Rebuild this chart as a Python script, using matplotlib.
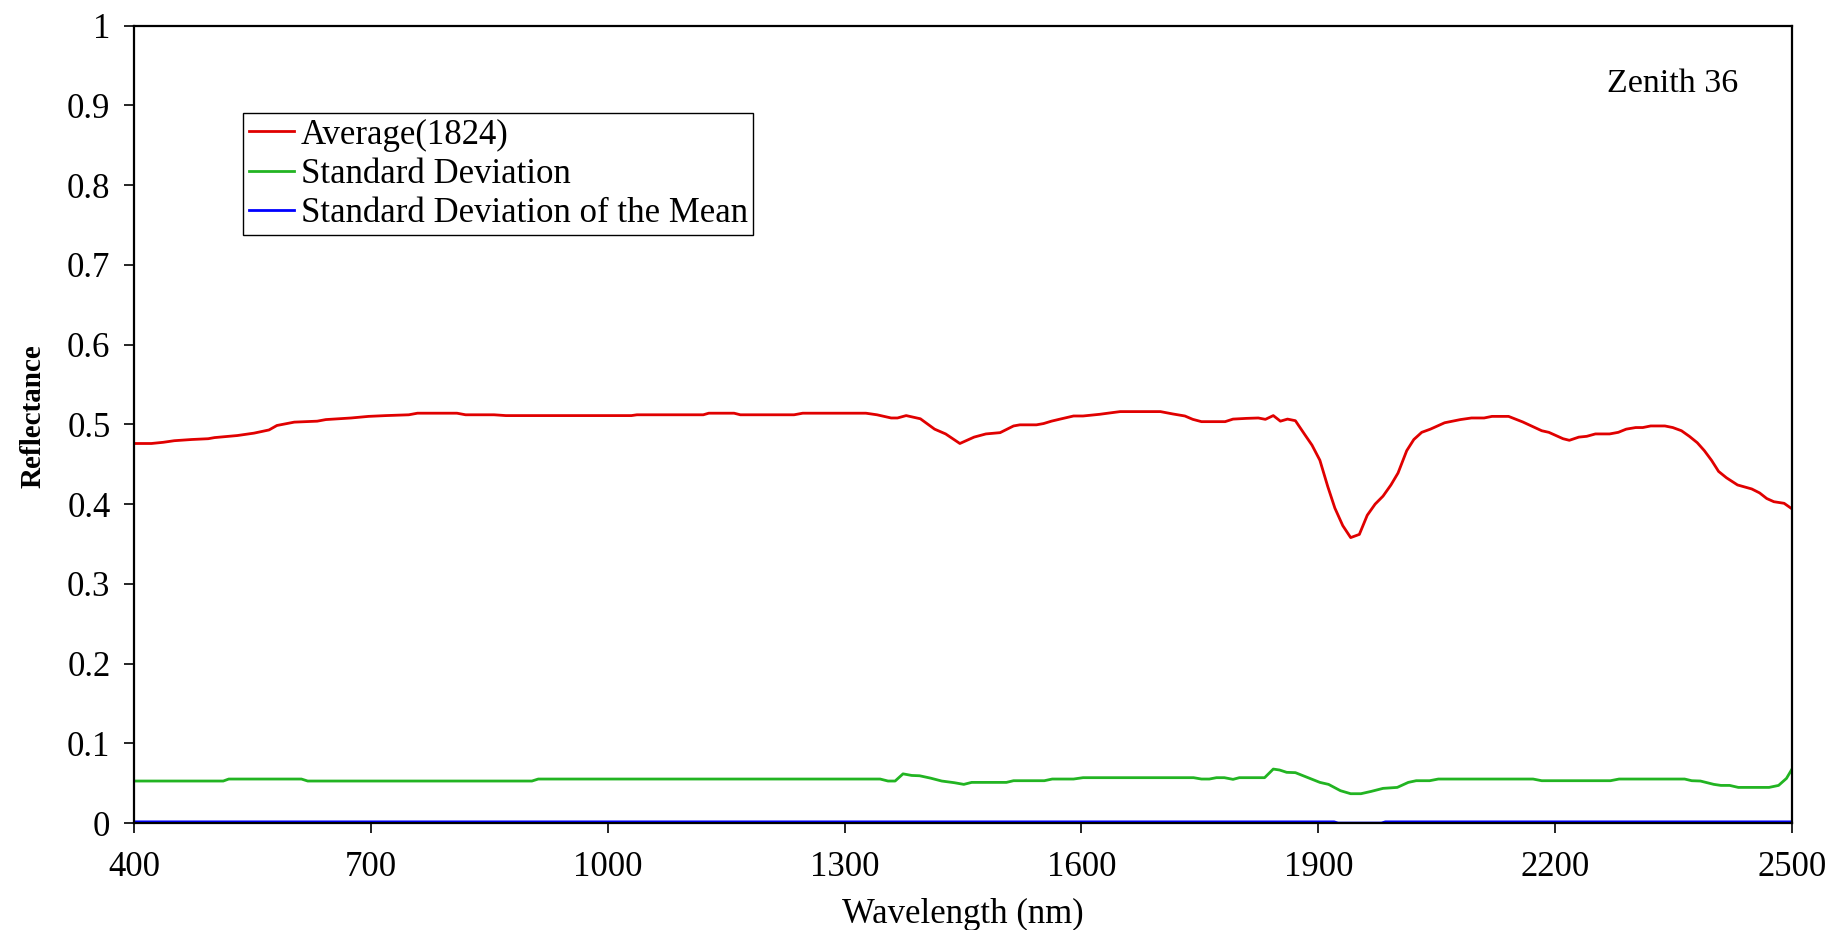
import matplotlib.pyplot as plt

plt.rcParams['font.family'] = ['Liberation Serif', 'DejaVu Serif']

# mean reflectance spectrum, zenith 36
avg_wl = [400, 422, 437, 451, 473, 494, 502, 531, 552, 571, 581, 603, 632, 643, 675, 697, 719, 748, 759, 809,
          820, 856, 871, 1030, 1037, 1121, 1128, 1160, 1168, 1236, 1247, 1327, 1341, 1359, 1367, 1378, 1396,
          1414, 1428, 1446, 1464, 1479, 1497, 1514, 1522, 1543, 1552, 1562, 1573, 1590, 1602, 1623, 1632,
          1649, 1700, 1716, 1731, 1741, 1752, 1782, 1792, 1809, 1824, 1833, 1843, 1852, 1861, 1871, 1883,
          1892, 1902, 1912, 1921, 1931, 1941, 1952, 1962, 1972, 1982, 1992, 2001, 2012, 2021, 2031, 2042,
          2060, 2080, 2094, 2110, 2120, 2141, 2159, 2183, 2192, 2210, 2218, 2230, 2240, 2251, 2269, 2280,
          2290, 2302, 2311, 2321, 2339, 2349, 2360, 2370, 2380, 2389, 2398, 2407, 2417, 2431, 2449, 2459,
          2468, 2477, 2490, 2500]
avg_refl = [0.476, 0.476, 0.4775, 0.4795, 0.481, 0.482, 0.4834, 0.486, 0.489, 0.493, 0.4986, 0.5028, 0.504,
            0.506, 0.508, 0.510, 0.511, 0.512, 0.514, 0.514, 0.512, 0.512, 0.511, 0.511, 0.512, 0.512, 0.514,
            0.514, 0.512, 0.512, 0.514, 0.514, 0.512, 0.508, 0.508, 0.511, 0.507, 0.494, 0.488, 0.476, 0.484,
            0.488, 0.4896, 0.498, 0.4994, 0.4994, 0.501, 0.504, 0.5066, 0.5105, 0.5105, 0.5126, 0.5138,
            0.516, 0.516, 0.513, 0.5105, 0.5063, 0.5034, 0.5034, 0.5066, 0.5075, 0.508, 0.5063, 0.511, 0.504,
            0.5066, 0.5046, 0.487, 0.474, 0.455, 0.422, 0.395, 0.373, 0.358, 0.362, 0.386, 0.400, 0.410,
            0.424, 0.439, 0.467, 0.481, 0.490, 0.494, 0.502, 0.506, 0.508, 0.508, 0.510, 0.510, 0.503,
            0.492, 0.490, 0.482, 0.480, 0.484, 0.485, 0.488, 0.488, 0.490, 0.494, 0.496, 0.496, 0.498,
            0.498, 0.496, 0.492, 0.485, 0.477, 0.467, 0.455, 0.441, 0.433, 0.424, 0.419, 0.414, 0.407,
            0.403, 0.401, 0.394]

std_wl = [400, 513, 520, 612, 620, 904, 912, 1345, 1355, 1364, 1374, 1385, 1395, 1409, 1423, 1439, 1451,
          1461, 1505, 1514, 1553, 1563, 1590, 1602, 1742, 1752, 1762, 1771, 1781, 1792, 1800, 1832, 1843,
          1851, 1860, 1871, 1886, 1902, 1913, 1928, 1941, 1954, 1967, 1982, 2000, 2014, 2024, 2041, 2052,
          2172, 2183, 2270, 2281, 2364, 2373, 2384, 2401, 2410, 2421, 2432, 2471, 2483, 2493, 2500]
std_refl = [0.0527, 0.0527, 0.0552, 0.0552, 0.0527, 0.0527, 0.0552, 0.0552, 0.0527, 0.0527, 0.0617, 0.0597,
            0.0593, 0.0563, 0.0527, 0.0506, 0.0485, 0.051, 0.051, 0.0531, 0.0531, 0.0552, 0.0552, 0.0569,
            0.0569, 0.0552, 0.0552, 0.0569, 0.0569, 0.0548, 0.0569, 0.0569, 0.0677, 0.0665, 0.0636, 0.0632,
            0.0573, 0.051, 0.0485, 0.0406, 0.0368, 0.0368, 0.0397, 0.0435, 0.0447, 0.051, 0.0531, 0.0531,
            0.0552, 0.0552, 0.0531, 0.0531, 0.0552, 0.0552, 0.0531, 0.0527, 0.0485, 0.0472, 0.0472, 0.0447,
            0.0447, 0.0472, 0.056, 0.0677]

sem_wl = [400, 1920, 1925, 1980, 1985, 2500]
sem_refl = [0.0015, 0.0015, 0.0, 0.0, 0.0015, 0.0015]

x_ticks = [400, 700, 1000, 1300, 1600, 1900, 2200, 2500]
y_ticks = [0, 0.1, 0.2, 0.3, 0.4, 0.5, 0.6, 0.7, 0.8, 0.9, 1]
y_labels = ['0', '0.1', '0.2', '0.3', '0.4', '0.5', '0.6', '0.7', '0.8', '0.9', '1']

fig = plt.figure(figsize=(18.31, 9.30), dpi=100)
ax = fig.add_axes([0.0732, 0.115, 0.9055, 0.8574])

ax.plot(avg_wl, avg_refl, color='#e00000', lw=2.0, label='Average(1824)')
ax.plot(std_wl, std_refl, color='#22b422', lw=2.0, label='Standard Deviation')
ax.plot(sem_wl, sem_refl, color='#0000ff', lw=2.0, label='Standard Deviation of the Mean')

ax.set_xlim(400, 2500)
ax.set_ylim(0, 1)
ax.set_xticks(x_ticks)
ax.set_yticks(y_ticks)
ax.set_yticklabels(y_labels)
ax.tick_params(axis='both', direction='out', length=7, width=1.2, labelsize=25)
ax.tick_params(axis='x', pad=13)
ax.tick_params(axis='y', pad=10)
for s in ax.spines.values():
    s.set_linewidth(1.6)

ax.set_xlabel('Wavelength (nm)', fontsize=25, labelpad=10)
ax.set_ylabel('Reflectance', fontsize=21, fontweight='bold')
ax.yaxis.set_label_coords(-0.053, 0.51)

ax.text(0.928, 0.927, 'Zenith 36', transform=ax.transAxes, fontsize=24.5, ha='center', va='center')

leg = ax.legend(loc='upper left', bbox_to_anchor=(0.066, 0.89), borderaxespad=0, fontsize=25,
                fancybox=False, edgecolor='black', framealpha=1, handlelength=1.3, handletextpad=0.2,
                labelspacing=0.18, borderpad=0.15)
leg.get_frame().set_linewidth(1.0)

plt.savefig('out.png', dpi=100)
